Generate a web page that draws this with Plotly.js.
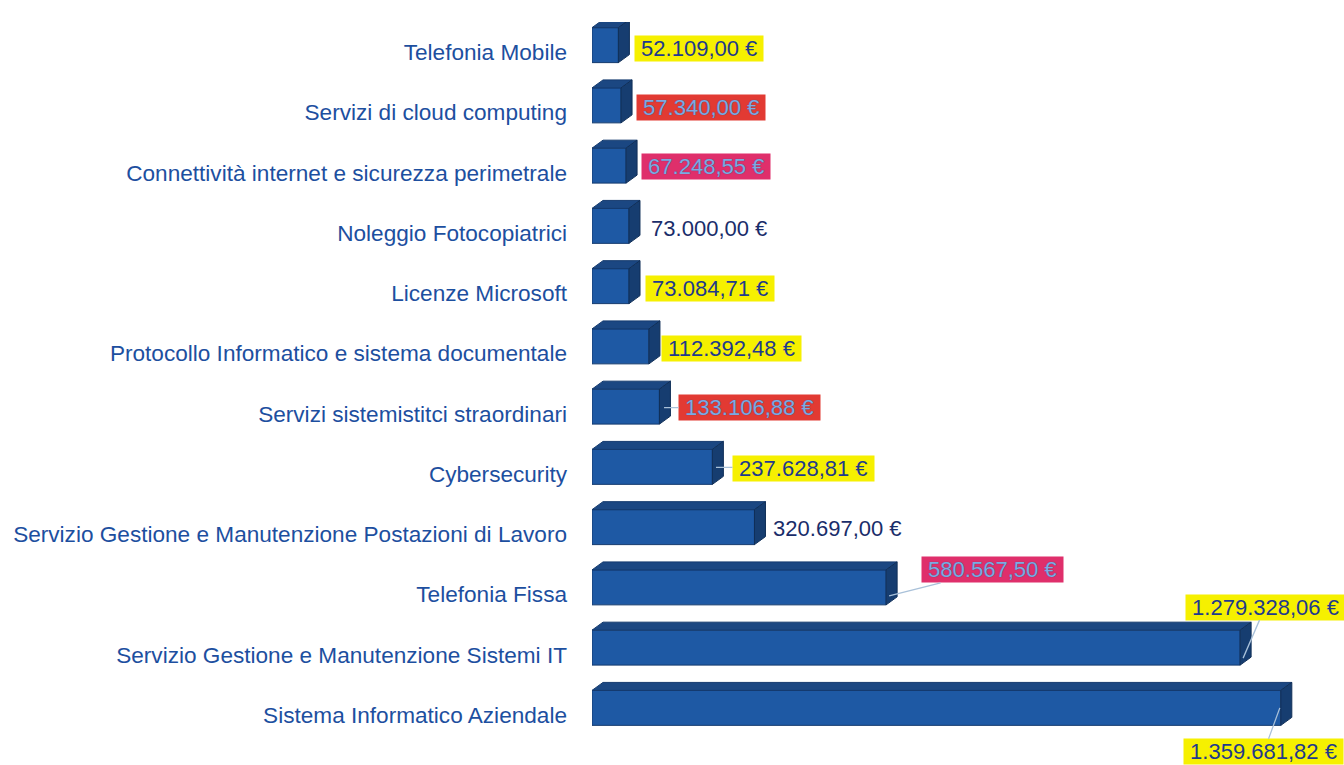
<!DOCTYPE html>
<html>
<head>
<meta charset="utf-8">
<script src="https://cdn.plot.ly/plotly-3.0.1.min.js"></script>
<style>html,body{margin:0;padding:0;background:#fff;}#chart{width:1344px;height:765px;}</style>
</head>
<body>
<div id="chart"></div>
<script>
// ---- data (bottom to top) ----
const categories = [
  "Sistema Informatico Aziendale",
  "Servizio Gestione e Manutenzione Sistemi IT",
  "Telefonia Fissa",
  "Servizio Gestione e Manutenzione Postazioni di Lavoro",
  "Cybersecurity",
  "Servizi sistemistitci straordinari",
  "Protocollo Informatico e sistema documentale",
  "Licenze Microsoft",
  "Noleggio Fotocopiatrici",
  "Connettività internet e sicurezza perimetrale",
  "Servizi di cloud computing",
  "Telefonia Mobile"
];
const values = [1359681.82, 1279328.06, 580567.50, 320697.00, 237628.81, 133106.88,
                112392.48, 73084.71, 73000.00, 67248.55, 57340.00, 52109.00];
const highlights = ["yellow","yellow","pink","none","yellow","red",
                    "yellow","yellow","none","pink","red","yellow"];

// ---- styles / label placement (pixels) ----
const labelPlacement = [
  {lead:true, xs:-1, ys:7, ax:-16, ay:44},
  {lead:true, xs:3, ys:-3.5, ax:22, ay:-51},
  {lead:true, xs:3, ys:-1.5, ax:103, ay:-26},
  {lead:false, xs:11.5, ys:6},
  {lead:true, xs:3.6, ys:6.6, ax:87.5, ay:1},
  {lead:true, xs:4.6, ys:6, ax:85.5, ay:0},
  {lead:false, xs:12, ys:4.5},
  {lead:false, xs:16, ys:5},
  {lead:false, xs:15, ys:4.5},
  {lead:false, xs:15, ys:6.5},
  {lead:false, xs:15, ys:4.5},
  {lead:false, xs:15.6, ys:3.5}
];
const bgColors = {yellow:"#f6f000", red:"#e23a33", pink:"#df2f6b", none:"rgba(0,0,0,0)"};

function fmtEuro(v){
  const parts = v.toFixed(2).split(".");
  const intPart = parts[0].replace(/\B(?=(\d{3})+(?!\d))/g, ".");
  return intPart + "," + parts[1] + " €";
}

const xMax = 1476500;
const mL = 592, mR = 4, W = 1344, H = 765, mT = 22, mB = 20;
const plotW = W - mL - mR;
const barWidth = 0.58, barOffset = -0.174;
const unitPx = (H - mT - mB) / 12;
const depthX = 11, depthY = 8;
const frontTop = (barOffset + barWidth) * unitPx;
const frontBot = barOffset * unitPx;
const dData = depthX * xMax / plotW;

const idx = categories.map((c, i) => i);

const trace = {
  type: "bar",
  orientation: "h",
  x: values,
  y: idx,
  width: barWidth,
  offset: barOffset,
  marker: {color: "#1e59a4", line: {color: "#143a6e", width: 1}},
  hoverinfo: "skip"
};

const shapes = [];
values.forEach((v, i) => {
  // top face
  shapes.push({
    type: "path", xref: "x", yref: "y",
    ysizemode: "pixel", yanchor: i,
    path: `M 0,${frontTop} L ${v},${frontTop} L ${v + dData},${frontTop + depthY} L ${dData},${frontTop + depthY} Z`,
    fillcolor: "#1b4782", line: {color: "#143a6e", width: 1}, layer: "above"
  });
  // side face
  shapes.push({
    type: "path", xref: "x", yref: "y",
    xsizemode: "pixel", xanchor: v,
    ysizemode: "pixel", yanchor: i,
    path: `M 0,${frontTop} L ${depthX},${frontTop + depthY} L ${depthX},${frontBot + depthY} L 0,${frontBot} Z`,
    fillcolor: "#163d70", line: {color: "#102f58", width: 1}, layer: "above"
  });
});

const annotations = values.map((v, i) => {
  const p = labelPlacement[i];
  const h = highlights[i];
  const onColor = (h === "red" || h === "pink");
  const a = {
    x: v, y: i, xref: "x", yref: "y",
    text: "\u00a0" + fmtEuro(v) + "\u00a0",
    bgcolor: bgColors[h],
    borderpad: 0,
    font: {
      family: "Liberation Sans, Arial, sans-serif", size: 22,
      color: onColor ? "#7fa9e2" : (h === "none" ? "#1a2d6a" : "#1f3a8c"),
      shadow: onColor ? "0 0 1px #34486e" : "none"
    },
    xshift: p.xs, yshift: p.ys
  };
  if (p.lead) {
    a.showarrow = true; a.arrowhead = 0; a.arrowwidth = 1.3;
    a.arrowcolor = "#a9c1d9"; a.ax = p.ax; a.ay = p.ay; a.standoff = 0;
  } else {
    a.showarrow = false; a.xanchor = "left"; a.yanchor = "middle";
  }
  return a;
});

const layout = {
  width: W, height: H,
  margin: {l: mL, r: mR, t: mT, b: mB, pad: 0},
  paper_bgcolor: "#ffffff", plot_bgcolor: "#ffffff",
  showlegend: false,
  xaxis: {range: [0, xMax], visible: false, fixedrange: true},
  yaxis: {
    range: [-0.5, 11.5],
    tickvals: idx, ticktext: categories,
    showgrid: false, zeroline: false, showline: false, ticks: "",
    ticklabelstandoff: 24,
    tickfont: {family: "Liberation Sans, Arial, sans-serif", size: 22.6, color: "#1d4f9f"},
    fixedrange: true
  },
  shapes: shapes,
  annotations: annotations
};

Plotly.newPlot("chart", [trace], layout, {displayModeBar: false, staticPlot: true});
</script>
</body>
</html>
